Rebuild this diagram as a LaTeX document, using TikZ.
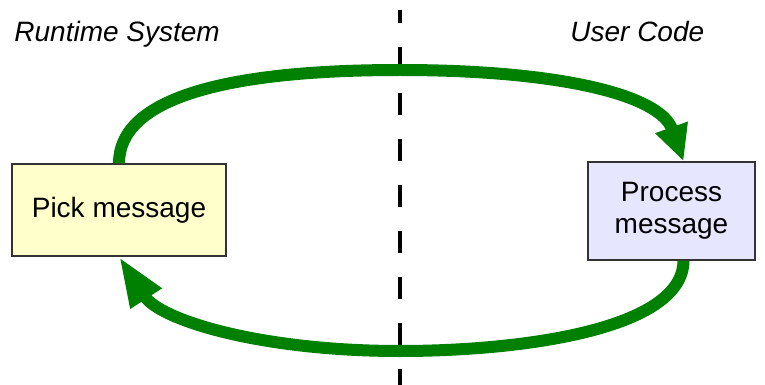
\documentclass[tikz,border=0pt]{standalone}
\usepackage{fontspec}
\setmainfont{Liberation Sans}
\usetikzlibrary{arrows.meta}
\definecolor{flowgreen}{RGB}{0,128,0}
\definecolor{pickfill}{RGB}{255,255,204}
\definecolor{procfill}{RGB}{230,230,255}
\begin{document}
\begin{tikzpicture}[x=0.5pt,y=-0.5pt,
        box/.style={draw=black!80,line width=0.7pt,align=center,inner sep=0pt,font=\fontsize{14}{16}\selectfont},
        flow/.style={draw=flowgreen,line width=6pt},
        side/.style={anchor=base west,inner sep=0pt,font=\fontsize{14}{16}\selectfont\itshape},
        divider/.style={line width=2pt,dash pattern=on 11pt off 12pt,dash phase=4.5pt}]
        \useasboundingbox (0,0) rectangle (765,385);
        \node[side] (rts) at (14,42) {Runtime System};
        \node[side] (usr) at (570,42) {User Code};
        \coordinate (divtop) at (400,10);
        \coordinate (divbot) at (400,385);
        \draw[divider] (divtop) -- (divbot);
        \node[box,fill=pickfill,minimum width=107pt,minimum height=46pt] (pick) at (119,210) {Pick message};
        \node[box,fill=procfill,minimum width=83.5pt,minimum height=49pt] (proc) at (671.5,211) {Process\\message};
        \draw[flow] [-{Triangle[length=18pt,width=16pt]}] (pick.north) .. controls (119,100) and (220,70) .. (400,70)
            .. controls (560,70) and (660,95) .. ([xshift=6pt]proc.north);
        \draw[flow] [-{Triangle[length=25pt,width=17pt]}] ([xshift=6pt]proc.south) .. controls (683,330) and (520,351) .. (400,351)
            .. controls (260,351) and (160,320) .. (pick.south);
\end{tikzpicture}
\end{document}
